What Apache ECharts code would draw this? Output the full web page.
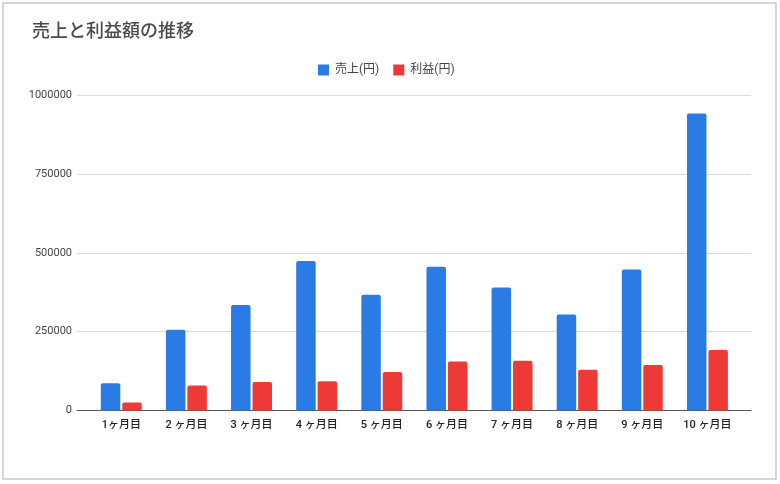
<!DOCTYPE html>
<html>
<head>
<meta charset="utf-8">
<script src="https://cdn.jsdelivr.net/npm/echarts@6/dist/echarts.min.js"></script>
<style>
html,body{margin:0;padding:0;background:#fff;}
#chart{width:780px;height:484px;}
</style>
</head>
<body>
<div id="chart"></div>
<script>
const categories = ['1ヶ月目','2 ヶ月目','3 ヶ月目','4 ヶ月目','5 ヶ月目','6 ヶ月目','7 ヶ月目','8 ヶ月目','9 ヶ月目','10 ヶ月目'];
const sales = [86000, 256000, 334000, 474000, 367000, 456000, 390000, 304000, 447000, 941000];
const profit = [25000, 79000, 90000, 93000, 122000, 155000, 158000, 129000, 144000, 192000];
const seriesNames = ['売上(円)', '利益(円)'];
const yTicks = [0, 250000, 500000, 750000, 1000000];

const FONT = 'Roboto, "Noto Sans CJK JP", sans-serif';
const CJK = '"Noto Sans CJK JP", "Noto Sans", sans-serif';
const chart = echarts.init(document.getElementById('chart'));
chart.setOption({
  backgroundColor: '#fff',
  animation: false,
  textStyle: { fontFamily: FONT },
  graphic: [{
    type: 'rect',
    shape: { x: 3, y: 3, width: 773, height: 476 },
    style: { fill: 'none', stroke: '#c8c8c8', lineWidth: 1.5 },
    silent: true
  }],
  title: {
    text: '売上と利益額の推移',
    left: 27, top: 16,
    textStyle: { fontFamily: CJK, fontSize: 18, fontWeight: 500, color: '#4a4a4a' }
  },
  legend: {
    data: seriesNames,
    left: 313, top: 59,
    itemWidth: 11, itemHeight: 11, itemGap: 14,
    icon: 'rect',
    textStyle: { fontFamily: FONT, fontSize: 12, color: '#444', padding: [0, 0, 0, 1] }
  },
  grid: [
    { left: 77, right: 29, top: 95, bottom: 73.5 },
    { left: 88.7, right: 40, top: 95, bottom: 73.5 }
  ],
  xAxis: [
    {
      gridIndex: 0, type: 'category', data: categories,
      axisLine: { show: true, lineStyle: { color: '#555', width: 1 } },
      axisTick: { show: false }, axisLabel: { show: false }, splitLine: { show: false }
    },
    {
      gridIndex: 1, type: 'category', data: categories,
      axisLine: { show: false }, axisTick: { show: false },
      axisLabel: { margin: 9, fontFamily: FONT, fontSize: 11, color: '#222', fontWeight: 500 }
    }
  ],
  yAxis: [
    {
      gridIndex: 0, type: 'value', min: yTicks[0], max: yTicks[yTicks.length - 1], interval: yTicks[1] - yTicks[0],
      axisLine: { show: false }, axisTick: { show: false },
      axisLabel: { margin: 5, fontFamily: FONT, fontSize: 11, color: '#444', formatter: v => String(v) },
      splitLine: { lineStyle: { color: '#d9d9d9', width: 1 } }
    },
    {
      gridIndex: 1, type: 'value', min: yTicks[0], max: yTicks[yTicks.length - 1], interval: yTicks[1] - yTicks[0],
      show: false, splitLine: { show: false }
    }
  ],
  series: [
    {
      name: seriesNames[0], type: 'bar', xAxisIndex: 1, yAxisIndex: 1, data: sales,
      barWidth: 19.5, barGap: '10%',
      itemStyle: { color: '#2a7be4', borderRadius: [2, 2, 0, 0] }
    },
    {
      name: seriesNames[1], type: 'bar', xAxisIndex: 1, yAxisIndex: 1, data: profit,
      barWidth: 19.5, barGap: '10%',
      itemStyle: { color: '#ee3a37', borderRadius: [2, 2, 0, 0] }
    }
  ]
});
</script>
</body>
</html>
